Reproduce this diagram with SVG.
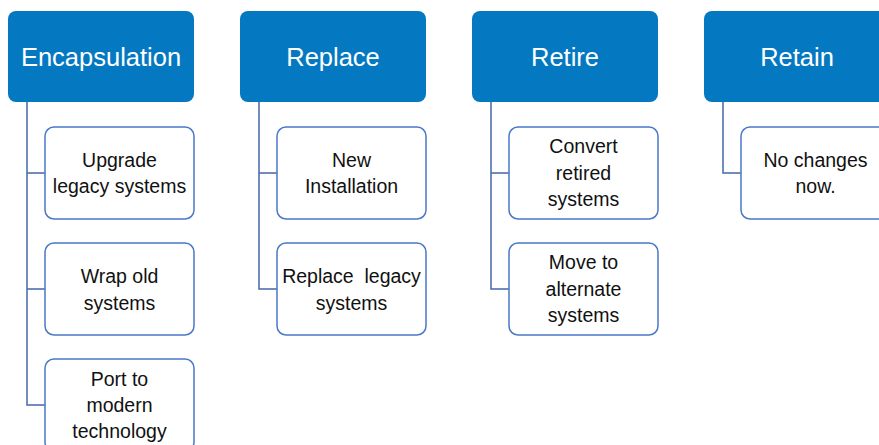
<svg xmlns="http://www.w3.org/2000/svg" width="879" height="445" viewBox="0 0 879 445">
  <style>
    .head { fill: #0479C2; }
    .head-text { fill: #ffffff; font-family: "Liberation Sans", Arial, sans-serif; font-size: 25.5px; text-anchor: middle; }
    .item { fill: #ffffff; stroke: #4A78C8; stroke-width: 1.5; }
    .item-text { fill: #111111; font-family: "Liberation Sans", Arial, sans-serif; font-size: 19.5px; text-anchor: middle; }
    .link { fill: none; stroke: #4467AC; stroke-width: 1.5; }
  </style>
  <rect width="879" height="445" fill="#ffffff"/>

  <!-- connectors from each category to its items -->
  <g id="connectors">
    <path class="link" d="M27 102 V405 H45 M27 173 H45 M27 289 H45"/>
    <path class="link" d="M259 102 V289 H277 M259 173 H277"/>
    <path class="link" d="M491 102 V289 H509 M491 173 H509"/>
    <path class="link" d="M723 102 V173 H741"/>
  </g>

  <!-- Encapsulation column -->
  <g id="encapsulation">
    <rect class="head" x="8" y="11" width="186" height="91" rx="8"/>
    <text class="head-text" x="101" y="66">Encapsulation</text>
  </g>
  <g id="upgrade-legacy">
    <rect class="item" x="45" y="127" width="149" height="92" rx="9"/>
    <text class="item-text" x="119.5" y="167">Upgrade</text>
    <text class="item-text" x="119.5" y="193">legacy systems</text>
  </g>
  <g id="wrap-old">
    <rect class="item" x="45" y="243" width="149" height="92" rx="9"/>
    <text class="item-text" x="119.5" y="283">Wrap old</text>
    <text class="item-text" x="119.5" y="310">systems</text>
  </g>
  <g id="port-modern">
    <rect class="item" x="45" y="359" width="149" height="92" rx="9"/>
    <text class="item-text" x="119.5" y="386">Port to</text>
    <text class="item-text" x="119.5" y="412">modern</text>
    <text class="item-text" x="119.5" y="438">technology</text>
  </g>

  <!-- Replace column -->
  <g id="replace">
    <rect class="head" x="240" y="11" width="186" height="91" rx="8"/>
    <text class="head-text" x="333" y="66">Replace</text>
  </g>
  <g id="new-installation">
    <rect class="item" x="277" y="127" width="149" height="92" rx="9"/>
    <text class="item-text" x="351.5" y="167">New</text>
    <text class="item-text" x="351.5" y="193">Installation</text>
  </g>
  <g id="replace-legacy">
    <rect class="item" x="277" y="243" width="149" height="92" rx="9"/>
    <text class="item-text" x="351.5" y="283" xml:space="preserve">Replace  legacy</text>
    <text class="item-text" x="351.5" y="310">systems</text>
  </g>

  <!-- Retire column -->
  <g id="retire">
    <rect class="head" x="472" y="11" width="186" height="91" rx="8"/>
    <text class="head-text" x="565" y="66">Retire</text>
  </g>
  <g id="convert-retired">
    <rect class="item" x="509" y="127" width="149" height="92" rx="9"/>
    <text class="item-text" x="583.5" y="153">Convert</text>
    <text class="item-text" x="583.5" y="180">retired</text>
    <text class="item-text" x="583.5" y="206">systems</text>
  </g>
  <g id="move-alternate">
    <rect class="item" x="509" y="243" width="149" height="92" rx="9"/>
    <text class="item-text" x="583.5" y="269">Move to</text>
    <text class="item-text" x="583.5" y="296">alternate</text>
    <text class="item-text" x="583.5" y="322">systems</text>
  </g>

  <!-- Retain column -->
  <g id="retain">
    <rect class="head" x="704" y="11" width="186" height="91" rx="8"/>
    <text class="head-text" x="797" y="66">Retain</text>
  </g>
  <g id="no-changes">
    <rect class="item" x="741" y="127" width="149" height="92" rx="9"/>
    <text class="item-text" x="815.5" y="167">No changes</text>
    <text class="item-text" x="815.5" y="193">now.</text>
  </g>
</svg>
